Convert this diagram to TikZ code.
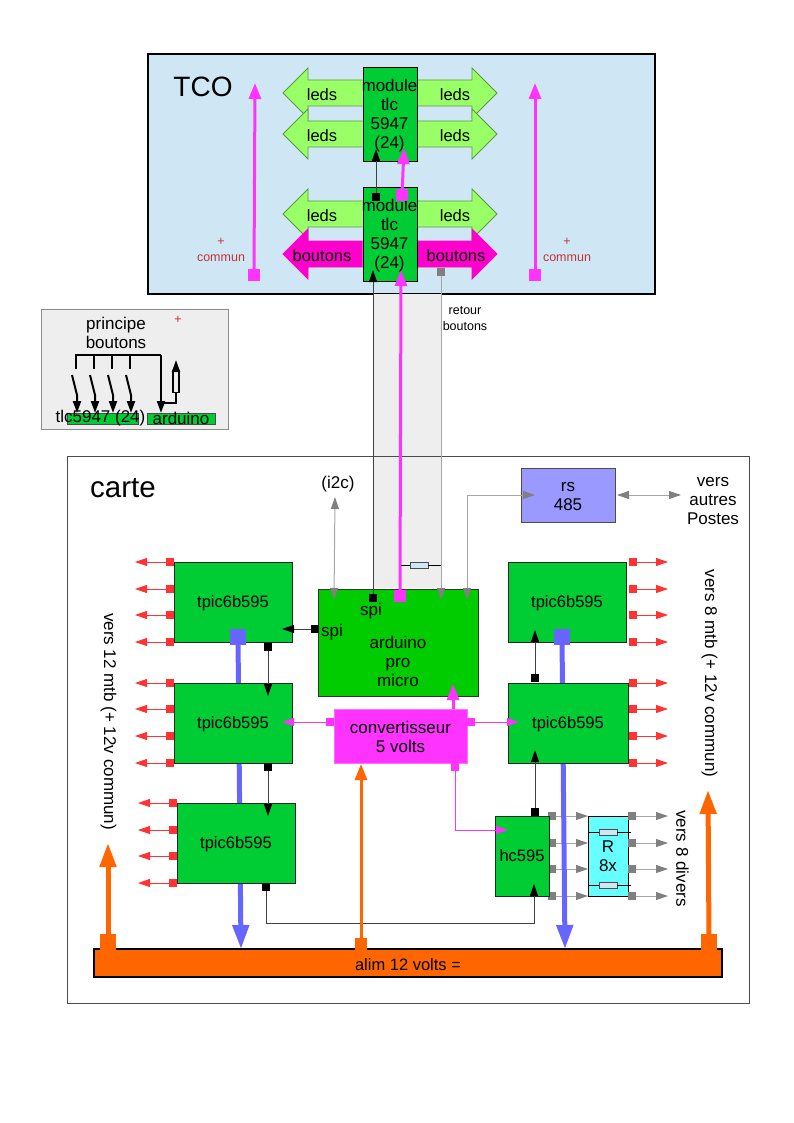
\documentclass[tikz,border=0pt]{standalone}
\usepackage{fontspec}
\setmainfont{Liberation Sans}
\usetikzlibrary{arrows.meta}
\definecolor{tcoblue}{HTML}{CFE7F5}
\definecolor{chipgreen}{HTML}{00CC33}
\definecolor{cpugreen}{HTML}{00CC00}
\definecolor{ledgreen}{HTML}{99FF66}
\definecolor{btnpink}{HTML}{FF00CC}
\definecolor{pwrpink}{HTML}{FF33FF}
\definecolor{busblue}{HTML}{6666FF}
\definecolor{rsblue}{HTML}{9999FF}
\definecolor{rcyan}{HTML}{66FFFF}
\definecolor{alimorange}{HTML}{FF6600}
\definecolor{outred}{HTML}{FF3333}
\definecolor{band}{HTML}{EEEEEE}
\begin{document}
\begin{tikzpicture}[
x=1pt,y=-1pt,
every node/.style={font=\fontsize{17}{19}\selectfont},
chip/.style={draw=black!85,fill=chipgreen,minimum width=118pt,minimum height=80pt,inner sep=0pt,line width=0.9pt,
  font=\fontsize{16.5}{19}\selectfont,text height=11.5pt,text depth=0pt},
module/.style={draw=black,fill=chipgreen,minimum width=54pt,minimum height=94pt,inner sep=0pt,line width=0.9pt},
boxtext/.style={align=center,inner sep=0pt,yshift=-1.5pt},
arrowtext/.style={boxtext,font=\fontsize{16.5}{19}\selectfont},
small/.style={font=\fontsize{12.5}{16}\selectfont,text=red!70!black!80,align=center,inner sep=0pt,yshift=-1pt},
pad/.style={inner sep=0pt,minimum size=8pt,draw=none},
blackpad/.style={pad,fill=black},
greypad/.style={pad,fill=gray},
redpad/.style={pad,fill=outred},
pinkpad/.style={pad,fill=pwrpink},
bigpinkpad/.style={pad,fill=pwrpink,minimum size=12pt},
bluepad/.style={pad,fill=busblue,minimum size=16pt},
orangepad/.style={pad,fill=alimorange,minimum size=16pt},
midorangepad/.style={pad,fill=alimorange,minimum size=12pt},
ledarrow/.style={fill=ledgreen,draw=black!40!ledgreen,line width=0.9pt},
btnarrow/.style={fill=btnpink,draw=btnpink,line width=0.9pt},
thinarrow/.style={-{Triangle[length=12pt,width=8pt]},line width=0.9pt},
blackwire/.style={thinarrow,draw=black!75,-{Triangle[length=12pt,width=8pt,color=black]}},
redwire/.style={thinarrow,draw=outred},
greywire/.style={draw=gray!70,line width=1pt,-{Triangle[length=12pt,width=8pt,color=gray]}},
greywires/.style={draw=gray!70,line width=1pt,{Triangle[length=12pt,width=8pt,color=gray]}-{Triangle[length=12pt,width=8pt,color=gray]}},
pinkwire/.style={thinarrow,draw=pwrpink},
powerpink/.style={draw=pwrpink,line width=3pt,-{Triangle[length=16pt,width=12pt]}},
powerorange/.style={draw=alimorange,line width=3pt,-{Triangle[length=16pt,width=12pt]}},
fatorange/.style={draw=alimorange,line width=5pt,-{Triangle[length=24pt,width=16pt]}},
fatblue/.style={draw=busblue,line width=5pt,-{Triangle[length=24pt,width=16pt]}},
resistor/.style={draw=black!70,fill=tcoblue,minimum width=18pt,minimum height=6pt,inner sep=0pt,line width=0.9pt},
swline/.style={draw=black,line width=2pt},
swarrow/.style={swline,-{Triangle[length=12pt,width=8pt]}}
]
\useasboundingbox (0,0) rectangle (794,1123);

% TCO frame and the band down to the board
\node[draw=black,fill=tcoblue,line width=2.5pt,minimum width=507pt,minimum height=240pt,inner sep=0pt] (tco) at (401.5,174) {};
\node[fill=band,minimum width=68pt,minimum height=294pt,inner sep=0pt] (liaison) at (407,441) {};
\node[draw=black!70,minimum width=682pt,minimum height=547pt,inner sep=0pt,line width=0.9pt] (carte) at (408,729.5) {};
\node[font=\fontsize{28}{30}\selectfont,inner sep=0pt] (titretco) at (203,87) {TCO};
\node[font=\fontsize{29.5}{30}\selectfont,inner sep=0pt] (titrecarte) at (123,488) {carte};

% right arrows
\foreach \yy [count=\i] in {93,134,214}
{
  \draw[ledarrow] (417,\yy-13) -- (472,\yy-13) -- (472,\yy-25) -- (497,\yy) -- (472,\yy+25) -- (472,\yy+13) -- (417,\yy+13);
  \node[arrowtext] (ledr\i) at (455,\yy) {leds};
}
\draw[btnarrow] (417,241) -- (472,241) -- (472,229) -- (497,254) -- (472,279) -- (472,267) -- (417,267);
\node[arrowtext] (btnr) at (456,254) {boutons};

\node[module] (mod1) at (390,114) {};
\node[module] (mod2) at (390,234) {};
\node[boxtext] (modtxt1) at (389.5,114) {module\\tlc\\5947\\(24)};
\node[boxtext] (modtxt2) at (389.5,234) {module\\tlc\\5947\\(24)};

% left arrows
\foreach \yy [count=\i] in {93,134,214}
{
  \draw[ledarrow] (362.5,\yy-13) -- (308,\yy-13) -- (308,\yy-25) -- (283,\yy) -- (308,\yy+25) -- (308,\yy+13) -- (362.5,\yy+13);
  \node[arrowtext] (ledl\i) at (322,\yy) {leds};
}
\draw[btnarrow] (362.5,241) -- (308,241) -- (308,229) -- (283,254) -- (308,279) -- (308,267) -- (362.5,267);
\node[arrowtext] (btnl) at (322,254) {boutons};

% commun
\node[small] (commun1) at (221,249) {+\\commun};
\node[small] (commun2) at (567,249) {+\\commun};
\node[bigpinkpad] (pc1) at (254,275) {};
\node[bigpinkpad] (pc2) at (535,275) {};
\coordinate (tc1) at (255,83);
\coordinate (tc2) at (535,83);
\draw[powerpink] (pc1) -- (tc1);
\draw[powerpink] (pc2) -- (tc2);

% between modules
\node[blackpad] (pm1) at (376,197) {};
\node[bigpinkpad] (pm2) at (402,195) {};
\coordinate (tm1) at (376,149);
\coordinate (tm2) at (404,148);
\draw[blackwire] (pm1) -- (tm1);
\draw[powerpink] (pm2) -- (tm2);

% principe
\node[draw=black!45,fill=band,minimum width=187pt,minimum height=120pt,inner sep=0pt,line width=0.9pt] (principe) at (134.5,369) {};
\node[boxtext] (titreprincipe) at (116,331) {principe\\boutons};
\node[small] (plus) at (178,319) {+};
\node[fill=chipgreen,draw=black!70,minimum width=71pt,minimum height=11pt,inner sep=0pt] (bartlc) at (102.5,418.5) {};
\node[fill=chipgreen,draw=black!70,minimum width=68pt,minimum height=11pt,inner sep=0pt] (bararduino) at (181,418.5) {};
\node[boxtext] (txttlc) at (100.5,417) {tlc5947 (24)};
\node[boxtext] (txtarduino) at (181,417) {arduino};
\draw[swline] (76,369) -- (76,355) -- (161,355);
\foreach \xx in {94,112,130}
  \draw[swline] (\xx,355) -- (\xx,369);
\foreach \xx in {76,94,112,130}
  \draw[swarrow] (\xx-4,375) -- (\xx+1,395) -- (\xx+1,413);
\coordinate (sw1) at (161,355);
\coordinate (sw2) at (161,413);
\coordinate (sw3) at (176,403);
\coordinate (sw4) at (176,360);
\draw[swarrow] (sw1) -- (sw2);
\node[draw=black,fill=band,line width=1.5pt,minimum width=6pt,minimum height=21pt,inner sep=0pt] (rbouton) at (176,382) {};
\draw[swline] (161,403) -- (sw3) -- (rbouton);
\draw[swarrow] (rbouton) -- (sw4);

% board
\node[fill=alimorange,draw=black,line width=2.5pt,minimum width=628pt,minimum height=28pt,inner sep=0pt] (alim) at (408,963) {};
\node[boxtext,font=\fontsize{16.5}{19}\selectfont] (alimtxt) at (408,963) {alim 12 volts =};

\node[draw=black!80,fill=cpugreen,minimum width=160pt,minimum height=107pt,inner sep=0pt,line width=0.9pt] (arduino) at (398,642.5) {};
\node[boxtext] (arduinotxt) at (398,660) {arduino\\pro\\micro};
\node[boxtext] (spi1) at (371,610) {spi};
\node[boxtext] (spi2) at (332,631) {spi};
\node[draw=black!70,fill=rsblue,minimum width=94pt,minimum height=54pt,inner sep=0pt,line width=0.9pt] (rs) at (568,495) {};
\node[boxtext] (rstxt) at (568,495) {rs\\485};
\node[boxtext] (autres) at (713,500) {vers\\autres\\Postes};
\node[boxtext] (i2c) at (338,483) {(i2c)};

\node[fill=pwrpink,draw=pwrpink!70,minimum width=133pt,minimum height=54pt,inner sep=0pt] (conv) at (400.5,736) {};
\node[boxtext] (convtxt) at (400.5,735.5) {convertisseur\\5 volts};

% tpic chips, the hc595 outputs pass under the bus
\node[chip] (t1) at (233,602) {tpic6b595};
\node[chip] (r1) at (567,602) {tpic6b595};
\foreach \yy [count=\i] in {816,843,869,896}
{
  \node[greypad] (ph\i) at (552,\yy) {};
  \coordinate (th\i) at (588,\yy);
  \draw[greywire] (ph\i) -- (th\i);
}
\node[bluepad] (pb1) at (238,637) {};
\node[bluepad] (pb2) at (562,637) {};
\coordinate (tb1) at (241,949);
\coordinate (tb2) at (565,949);
\draw[fatblue] (pb1) -- (tb1);
\draw[fatblue] (pb2) -- (tb2);
\node[chip] (t2) at (233,723) {tpic6b595};
\node[chip] (t3) at (236,843) {tpic6b595};
\node[chip,minimum width=120pt] (r2) at (568,723) {tpic6b595};
\node[chip,minimum width=54pt] (hc) at (522,856) {hc595};
\node[draw=black,fill=rcyan,minimum width=40pt,minimum height=80pt,align=center,inner sep=0pt,line width=0.9pt] (rx) at (608,856) {R\\8x};

% red outputs
\foreach \yy [count=\i] in {562,589,615,642}
{
  \node[redpad] (pa\i) at (170,\yy) {};
  \coordinate (ta\i) at (135,\yy);
  \draw[redwire] (pa\i) -- (ta\i);
  \node[redpad] (pd\i) at (633,\yy) {};
  \coordinate (td\i) at (668,\yy);
  \draw[redwire] (pd\i) -- (td\i);
}
\foreach \yy [count=\i] in {683,709,736,763}
{
  \node[redpad] (pb\i a) at (170,\yy) {};
  \coordinate (tb\i a) at (135,\yy);
  \draw[redwire] (pb\i a) -- (tb\i a);
  \node[redpad] (pe\i) at (633,\yy) {};
  \coordinate (te\i) at (668,\yy);
  \draw[redwire] (pe\i) -- (te\i);
}
\foreach \yy [count=\i] in {803,830,856,883}
{
  \node[redpad] (pc\i a) at (173,\yy) {};
  \coordinate (tc\i a) at (138,\yy);
  \draw[redwire] (pc\i a) -- (tc\i a);
}

% grey outputs
\foreach \yy [count=\i] in {816,843,869,896}
{
  \node[greypad] (pr\i) at (632,\yy) {};
  \coordinate (tr\i) at (668,\yy);
  \draw[greywire] (pr\i) -- (tr\i);
}
\foreach \yy [count=\i] in {832,885}
{
  \node[resistor] (rr\i) at (608,\yy) {};
  \coordinate (rra\i) at (588,\yy);
  \coordinate (rrb\i) at (631,\yy);
  \draw[line width=0.9pt] (rra\i) -- (rr\i) -- (rrb\i);
}

% black links
\node[blackpad] (ps1) at (373,598) {};
\coordinate (ts1) at (373,270);
\draw[blackwire] (ps1) -- (ts1);
\node[blackpad] (ps2) at (315,629) {};
\coordinate (ts2) at (282,629);
\draw[blackwire] (ps2) -- (ts2);
\node[blackpad] (pt1) at (268,647) {};
\coordinate (tt1) at (268,696);
\draw[blackwire] (pt1) -- (tt1);
\node[blackpad] (pt2) at (268,767) {};
\coordinate (tt2) at (268,816);
\draw[blackwire] (pt2) -- (tt2);
\node[blackpad] (pt3) at (266,887) {};
\coordinate (tt3) at (534,884);
\draw[blackwire] (pt3) |- (534,923) -- (tt3);
\node[blackpad] (pr2b) at (535,812) {};
\coordinate (tr2a) at (535,750);
\draw[blackwire] (pr2b) -- (tr2a);
\node[blackpad] (pr3b) at (535,678) {};
\coordinate (tr3a) at (535,630);
\draw[blackwire] (pr3b) -- (tr3a);

% grey links
\node[greypad] (pretour) at (441,272) {};
\coordinate (tretour) at (441,600);
\draw[greywire] (pretour) -- (tretour);
\node[boxtext,font=\fontsize{12.5}{16}\selectfont] (retour) at (465,317) {retour\\boutons};
\coordinate (i2ca) at (335,497);
\coordinate (i2cb) at (334,600);
\draw[greywires] (i2ca) -- (i2cb);
\coordinate (rsa) at (467,600);
\coordinate (rsb) at (535,495);
\draw[greywires] (rsa) |- (rsb);
\coordinate (rsc) at (617,495);
\coordinate (rsd) at (681,495);
\draw[greywires] (rsc) -- (rsd);

% power
\node[bigpinkpad] (ppk) at (400,596) {};
\coordinate (tpk) at (401,270);
\draw[powerpink] (ppk) -- (tpk);
\node[resistor,minimum width=18pt] (rliaison) at (419,565) {};
\coordinate (rla) at (401,565);
\coordinate (rlb) at (441,565);
\draw[line width=0.9pt] (rla) -- (rliaison) -- (rlb);
\node[pinkpad] (pk1) at (330,722) {};
\coordinate (tk1) at (282,722);
\draw[pinkwire] (pk1) -- (tk1);
\node[pinkpad] (pk2) at (471,722) {};
\coordinate (tk2) at (519,722);
\draw[pinkwire] (pk2) -- (tk2);
\coordinate (pk3) at (453,709);
\coordinate (tk3) at (453,684);
\draw[powerpink] (pk3) -- (tk3);
\node[pinkpad] (pk4) at (455,767) {};
\coordinate (tk4) at (508,830);
\draw[pinkwire] (pk4) |- (tk4);

\node[orangepad] (po1) at (108,942) {};
\coordinate (to1) at (108,843);
\draw[fatorange] (po1) -- (to1);
\node[orangepad] (po2) at (709,942) {};
\coordinate (to2) at (708,790);
\draw[fatorange] (po2) -- (to2);
\node[midorangepad] (po3) at (361,944) {};
\coordinate (to3) at (361,764);
\draw[powerorange] (po3) -- (to3);

% side texts
\node[boxtext,rotate=-90,yshift=1.5pt] (vers12) at (107,720) {vers 12 mtb (+ 12v commun)};
\node[boxtext,rotate=-90,yshift=1.5pt] (vers8) at (708,672) {vers 8 mtb (+ 12v commun)};
\node[boxtext,rotate=-90,yshift=1.5pt] (divers) at (681,857) {vers 8 divers};
\end{tikzpicture}
\end{document}
